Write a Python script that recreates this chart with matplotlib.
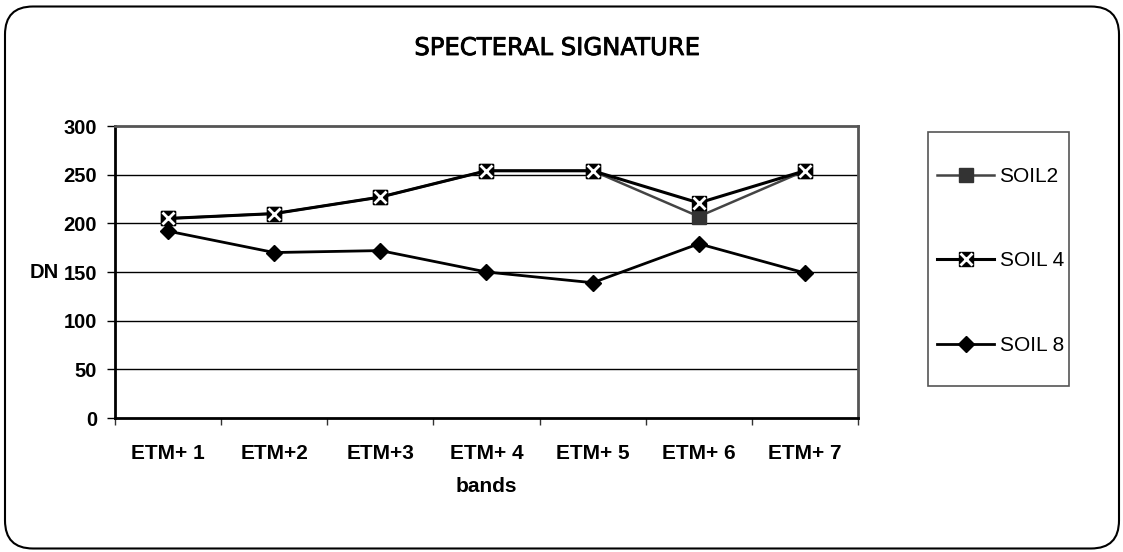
import matplotlib
matplotlib.use("Agg")
import matplotlib.pyplot as plt
import matplotlib.patheffects as pe
from matplotlib.patches import FancyBboxPatch, Rectangle
from matplotlib.legend_handler import HandlerTuple
import numpy as np

# data
bands = ['ETM+ 1', 'ETM+2', 'ETM+3', 'ETM+ 4', 'ETM+ 5', 'ETM+ 6', 'ETM+ 7']
soil2 = [205, 210, 227, 254, 254, 207, 254]
soil4 = [205, 210, 227, 254, 254, 221, 254]
soil8 = [192, 170, 172, 150, 139, 179, 149]
yticks = [0, 50, 100, 150, 200, 250, 300]

arial = ['Liberation Sans', 'DejaVu Sans']

fig = plt.figure(figsize=(11.23, 5.52), dpi=100)
ax = fig.add_axes([115/1123, 1-418/552, (858-115)/1123, (418-126)/552])

x = np.arange(len(bands))
l2, = ax.plot(x, soil2, color='#444444', lw=1.8, marker='s', ms=10,
              mfc='#333333', mec='#333333', zorder=3)
l4, = ax.plot(x, soil4, color='black', lw=2.2, marker='s', ms=10,
              mfc='black', mec='black', zorder=4)
l4x, = ax.plot(x, soil4, ls='none', marker='x', ms=8, mew=2,
               mec='white', zorder=5)
l8, = ax.plot(x, soil8, color='black', lw=2, marker='D', ms=8,
              mfc='black', mec='black', zorder=4)

ax.set_xlim(-0.5, len(bands)-0.5)
ax.set_ylim(0, 300)
ax.set_yticks(yticks)
ax.set_yticklabels([str(v) for v in yticks], family=arial,
                   fontweight='bold', fontsize=14.5)
ax.set_xticks(x)
ax.set_xticklabels(bands, family=arial, fontweight='bold', fontsize=15)
ax.set_xticks(np.arange(-0.5, len(bands), 1), minor=True)
ax.tick_params(axis='x', which='major', length=0, pad=19)
ax.tick_params(axis='x', which='minor', length=5, direction='out',
               width=1, color='#333333')
ax.tick_params(axis='y', length=6, width=1, direction='out', pad=7)

for v in yticks[1:-1]:
    ax.axhline(v, color='black', lw=1, zorder=1)

ax.spines['left'].set_color('black')
ax.spines['left'].set_linewidth(2)
ax.spines['bottom'].set_color('black')
ax.spines['bottom'].set_linewidth(2)
ax.spines['top'].set_color('#555555')
ax.spines['top'].set_linewidth(2)
ax.spines['right'].set_color('#555555')
ax.spines['right'].set_linewidth(2)

ax.set_xlabel('bands', family=arial, fontweight='bold', fontsize=15,
              labelpad=10)
fig.text(30/1123, 1-272/552, 'DN', family=arial, fontweight='bold',
         fontsize=14.5, va='center', ha='left')

fig.text(557/1123, 1-48/552, 'SPECTERAL SIGNATURE', family='DejaVu Sans',
         fontsize=17.5, ha='center', va='center',
         path_effects=[pe.withStroke(linewidth=0.6, foreground='black')])

# legend box
fig.add_artist(Rectangle((928/1123, 1-386/552), 141/1123, 254/552,
                         transform=fig.transFigure, fill=False,
                         edgecolor='#555555', lw=1.2))
fig.legend([l2, (l4, l4x), l8], ['SOIL2', 'SOIL 4', 'SOIL 8'],
           handler_map={tuple: HandlerTuple(ndivide=1)},
           loc='center left', bbox_to_anchor=(937/1123, 1-261/552),
           frameon=False, borderpad=0, borderaxespad=0,
           handlelength=2.75, handletextpad=0.25, labelspacing=3.15,
           prop={'family': arial, 'size': 15})

# rounded border round the whole chart
fig.add_artist(FancyBboxPatch((0.05, 0.035), 11.14, 5.42,
                              boxstyle='round,pad=0,rounding_size=0.28',
                              transform=fig.dpi_scale_trans, fill=False,
                              edgecolor='black', lw=1.5))

fig.savefig('out.png', dpi=100)
